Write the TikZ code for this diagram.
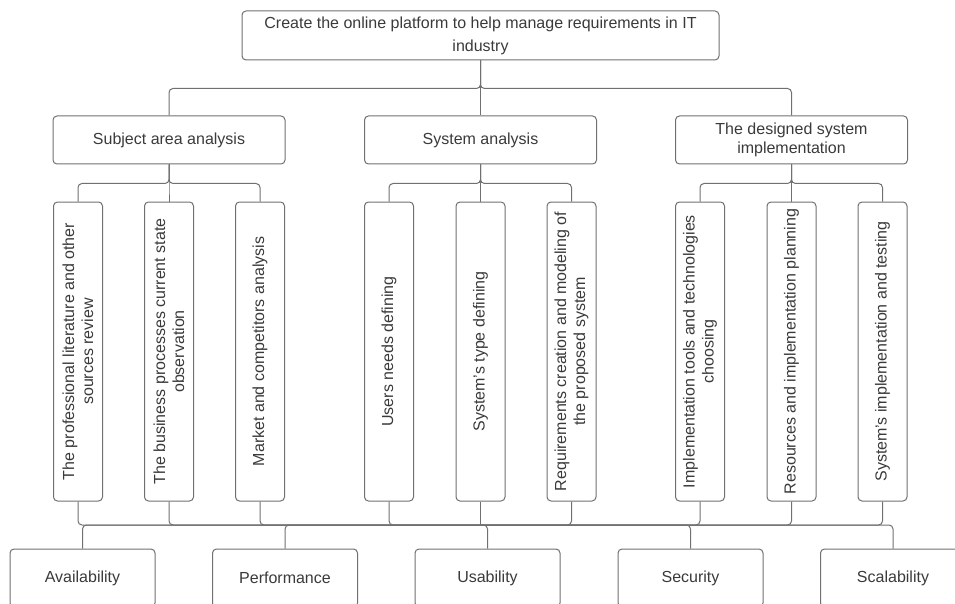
\documentclass[tikz,border=0pt]{standalone}
\usepackage{fontspec}
\setmainfont{Liberation Sans}
\usepackage{xcolor}
\usepackage{tikz}
\usetikzlibrary{positioning}

\definecolor{linegray}{RGB}{112,112,112}
\definecolor{textgray}{RGB}{58,58,58}

\begin{document}
\begin{tikzpicture}
    [%%%%%%%%%%%%%%%%%%%%%%%%%%%%%%
        x=1pt,y=1pt,
        box/.style={rectangle,rounded corners=4pt,draw=linegray,line width=1pt,text=textgray,
            font=\fontsize{16}{19}\selectfont,align=center,inner sep=2pt},
        topbox/.style={box,minimum width=477,minimum height=49,font=\fontsize{16}{23}\selectfont},
        taskbox/.style={box,minimum width=232,minimum height=48},
        stepbox/.style={box,rotate=90,minimum width=299,minimum height=49},
        qualbox/.style={box,minimum width=145,minimum height=58},
        link/.style={draw=linegray,line width=1pt,rounded corners=4pt}
    ]%%%%%%%%%%%%%%%%%%%%%%%%%%%%%%
\useasboundingbox (0,0) rectangle (955,-604);
\clip (0,0) rectangle (955,-604);

\node[topbox] (goal) at (480.5,-35.5)
    {Create the online platform to help manage requirements in IT\\industry};

\node[taskbox] (sub)  at (169,-140)   {Subject area analysis};
\node[taskbox] (sys)  at (480.5,-140) {System analysis};
\node[taskbox] (impl) at (791.5,-140) {The designed system\\implementation};

\foreach \c in {sub,sys,impl}
    \draw[link] (goal.south) -- ++(0,-28) -| (\c.north);

\foreach \n/\x/\t in {1/78/{The professional literature and other\\sources review},
                      2/169/{The business processes current state\\observation},
                      3/260/{Market and competitors analysis},
                      4/389/{Users needs defining},
                      5/480.5/{System's type defining},
                      6/571.5/{Requirements creation and modeling of\\the proposed system},
                      7/700/{Implementation tools and technologies\\choosing},
                      8/791.5/{Resources and implementation planning},
                      9/882.5/{System's implementation and testing}}
    \node[stepbox] (t\n) at (\x,-351.5) {\t};

\foreach \c in {t1,t2,t3}
    \draw[link] (sub.south) -- ++(0,-19) -| (\c.east);
\foreach \c in {t4,t5,t6}
    \draw[link] (sys.south) -- ++(0,-19) -| (\c.east);
\foreach \c in {t7,t8,t9}
    \draw[link] (impl.south) -- ++(0,-19) -| (\c.east);

% quality attributes
\node[qualbox] (avail) at (82.5,-578)  {Availability};
\node[qualbox] (perf)  at (285,-578)   {Performance};
\node[qualbox] (usab)  at (487.5,-578) {Usability};
\node[qualbox] (secur) at (690.5,-578) {Security};
\node[qualbox] (scal)  at (893,-578)   {Scalability};

\coordinate (bus) at (480.5,-525);

\foreach \c in {t1,t2,t3,t4,t5,t6,t7,t8,t9}
    \draw[link] (\c.west) |- (bus);
\foreach \c in {avail,perf,usab,secur,scal}
    \draw[link] (bus) -| (\c.north);

\end{tikzpicture}
\end{document}
